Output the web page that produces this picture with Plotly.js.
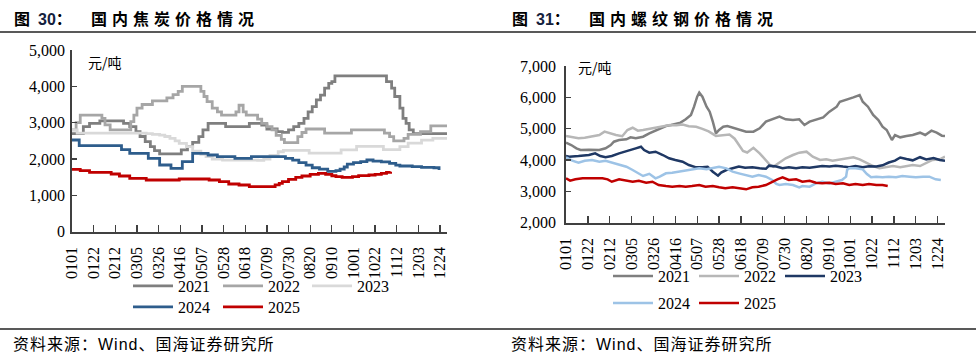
<!DOCTYPE html>
<html><head><meta charset="utf-8">
<script src="https://cdn.plot.ly/plotly-3.0.1.min.js"></script>
<style>html,body{margin:0;padding:0;background:#fff}#chart{width:976px;height:360px}</style>
</head><body><div id="chart"></div>
<script>
// ---- tick labels (MMDD) ----
const tickLabels = ['0101','0122','0212','0305','0326','0416','0507','0528','0618','0709','0730','0820','0910','1001','1022','1112','1203','1224'];
const years = ['2021','2022','2023','2024','2025'];

// ---- 图30 国内焦炭价格 (元/吨), x = day of year (0 = Jan 1) ----
const cokeDay2021 = [0,11,17,27,50,56,62,66,71,76,80,85,106,112,117,123,127,132,149,172,184,189,199,204,210,215,220,225,229,233,237,241,245,249,252,255,305,310,313,318,321,324,327,331,364];
const cokeVal2021 = [2700,2890,2980,3050,2980,2890,2750,2620,2480,2340,2230,2140,2250,2340,2460,2615,2800,2980,2890,2980,2936,2826,2753,2735,2800,2890,2980,3120,3300,3440,3625,3760,3950,4080,4130,4290,4130,3950,3720,3400,3120,2980,2800,2700,2700];
const cokeDay2022 = [0,4,8,29,32,37,57,60,63,68,78,92,98,103,107,125,128,131,136,141,145,159,162,166,169,180,184,189,194,198,203,206,219,223,227,245,271,303,308,312,322,326,338,348,364];
const cokeVal2022 = [2800,3000,3210,3120,2940,2800,3030,3210,3400,3500,3600,3680,3770,3860,4000,3860,3720,3580,3400,3300,3210,3300,3480,3300,3210,3100,2980,2890,2800,2650,2540,2450,2615,2730,2826,2710,2800,2710,2615,2500,2570,2680,2750,2910,2910];
const cokeDay2023 = [0,5,72,78,85,90,95,100,104,111,117,125,130,136,146,180,186,192,200,205,230,261,276,302,318,326,339,350,364];
const cokeVal2023 = [2800,2710,2700,2680,2660,2620,2570,2500,2430,2340,2220,2130,2065,2000,1970,1960,2000,2100,2200,2240,2160,2250,2350,2260,2340,2440,2520,2570,2570];
const cokeDay2024 = [0,7,48,56,74,85,96,107,117,132,141,158,174,207,214,220,227,233,240,248,256,260,264,267,273,280,286,292,300,308,314,318,330,339,351,356];
const cokeVal2024 = [2524,2370,2260,2157,2019,1835,1743,1927,2157,2110,2065,2019,2065,2019,1970,1900,1830,1760,1720,1660,1680,1720,1780,1860,1900,1930,1973,1940,1920,1880,1830,1808,1790,1771,1760,1700];
const cokeDay2025 = [0,8,17,38,46,56,72,104,133,143,152,162,172,197,201,204,210,217,223,231,239,246,252,256,262,272,278,288,294,300,305,309];
const cokeVal2025 = [1717,1680,1634,1588,1533,1468,1422,1450,1422,1377,1312,1285,1239,1290,1330,1376,1441,1496,1533,1579,1606,1579,1540,1514,1497,1514,1542,1560,1579,1606,1633,1652];

// ---- 图31 国内螺纹钢价格 (元/吨) ----
const rebarDay2021 = [0,5,10,14,22,32,38,43,46,51,58,62,67,74,80,86,90,96,101,106,110,115,120,123,126,128,131,135,138,141,144,147,151,155,160,167,173,180,186,192,199,205,211,218,224,229,234,240,247,253,260,263,269,276,282,285,290,295,300,304,308,311,313,316,321,327,333,340,345,351,356,361,364];
const rebarVal2021 = [4553,4479,4373,4320,4330,4320,4373,4479,4585,4638,4660,4724,4692,4744,4851,4936,5011,5085,5118,5171,5192,5299,5436,5702,6020,6150,6021,5702,5542,5224,4851,4960,5063,5085,5030,4958,4905,4905,5012,5224,5299,5383,5299,5277,5299,5118,5224,5277,5362,5542,5702,5861,5915,6000,6075,5861,5702,5436,5277,5063,4958,4744,4639,4798,4724,4766,4798,4872,4798,4936,4872,4776,4766];
const rebarDay2022 = [0,6,12,18,25,32,37,42,48,54,59,64,69,74,79,84,89,94,100,106,112,118,125,131,137,144,150,157,162,166,170,174,180,186,192,196,199,205,211,218,224,231,237,244,250,256,263,269,276,282,288,295,301,308,314,321,327,333,340,346,352,359,364];
const rebarVal2022 = [4766,4724,4692,4713,4744,4798,4905,4851,4798,4760,4958,5030,4936,4958,4990,5030,5063,5085,5118,5110,5130,5075,5060,4995,4915,4770,4800,4815,4680,4480,4290,4240,4390,4213,4001,3841,3787,3915,4054,4160,4234,4266,4106,4001,4022,3978,4022,4054,4086,4022,3915,3809,3735,3767,3809,3767,3809,3841,3809,3894,4001,4022,4106];
const rebarDay2023 = [0,3,12,22,28,33,38,44,51,57,62,67,72,75,80,86,93,99,105,112,118,125,131,136,141,146,149,154,160,166,172,179,186,192,195,202,208,214,221,227,234,240,246,253,259,266,272,278,285,291,298,304,310,316,321,327,333,340,346,353,359,364];
const rebarVal2023 = [4128,4106,4128,4160,4213,4128,4086,4128,4213,4266,4320,4373,4425,4320,4234,4266,4160,4054,4001,3946,3841,3767,3767,3787,3628,3500,3600,3681,3735,3790,3750,3767,3735,3720,3820,3790,3740,3770,3735,3767,3750,3790,3810,3790,3820,3790,3770,3810,3770,3800,3790,3830,3920,3980,4080,4030,3990,4090,4020,4060,4000,3980];
const rebarDay2024 = [0,6,12,18,25,32,38,45,51,58,64,70,74,80,86,90,96,102,109,115,122,128,135,141,147,154,160,166,172,179,185,192,198,202,205,211,218,224,227,234,240,246,253,259,265,269,270,272,278,285,289,293,298,304,310,317,323,330,336,343,349,355,360];
const rebarVal2024 = [4086,3978,3915,3978,4001,3946,3978,3915,3841,3787,3681,3575,3490,3560,3416,3468,3575,3596,3628,3660,3703,3735,3703,3735,3787,3735,3628,3575,3520,3468,3522,3468,3362,3235,3203,3235,3203,3129,3171,3149,3256,3308,3256,3308,3362,3468,3681,3735,3735,3703,3554,3448,3468,3448,3468,3448,3490,3468,3448,3468,3468,3384,3362];
const rebarDay2025 = [0,4,9,16,22,28,35,40,44,51,57,64,70,77,83,89,96,102,109,115,121,128,134,141,147,153,160,166,173,179,185,192,198,203,208,214,221,227,234,240,246,253,259,266,272,278,285,291,298,304,309];
const rebarVal2025 = [3416,3340,3384,3416,3416,3416,3416,3384,3308,3384,3340,3308,3340,3277,3308,3203,3171,3149,3171,3149,3171,3203,3149,3171,3129,3097,3129,3097,3065,3129,3149,3203,3308,3384,3448,3362,3384,3308,3340,3277,3256,3277,3235,3256,3203,3235,3203,3235,3203,3203,3171];

const cokeColors = ['#7f7f7f','#a6a6a6','#d9d9d9','#2e5d8c','#c00000'];
const rebarColors = ['#7f7f7f','#b7b7b7','#1f3864','#9dc3e6','#c00000'];

const monthStart = [0,31,59,90,120,151,181,212,243,273,304,334];
function doy(mmdd){ return monthStart[+mmdd.slice(0,2)-1] + (+mmdd.slice(2)) - 1; }
const tickVals = tickLabels.map(doy);

const cokeDays = [cokeDay2021,cokeDay2022,cokeDay2023,cokeDay2024,cokeDay2025];
const cokeVals = [cokeVal2021,cokeVal2022,cokeVal2023,cokeVal2024,cokeVal2025];
const rebarDays = [rebarDay2021,rebarDay2022,rebarDay2023,rebarDay2024,rebarDay2025];
const rebarVals = [rebarVal2021,rebarVal2022,rebarVal2023,rebarVal2024,rebarVal2025];

const W=976, H=360;
const px = v => v/W, py = v => 1 - v/H;
const serif = 'Liberation Serif';
const cjk = 'Noto Sans CJK SC';

// legend entry anchor (line start x, row centre y) for each series
const cokeLegendPos = [[133,286],[223,286],[312,286],[133,307],[223,307]];
const rebarLegendPos = [[613,276],[699,276],[785,276],[613,303],[699,303]];

const traces = [];
const layout = {
  width:W, height:H, margin:{l:0,r:0,t:0,b:0}, paper_bgcolor:'#fff', plot_bgcolor:'#fff',
  font:{family:serif, color:'#000'}, showlegend:true
};
function leg(pos){
  return {orientation:'h', x:px(pos[0]-5), y:py(pos[1]), xanchor:'left', yanchor:'middle',
    font:{family:serif, size:16, color:'#000'}, bgcolor:'rgba(0,0,0,0)', borderwidth:0,
    itemwidth:40, tracegroupgap:0, itemclick:false, itemdoubleclick:false};
}
let legIdx = 1;
years.forEach((yr,i)=>{
  const key = legIdx===1 ? 'legend' : 'legend'+legIdx;
  traces.push({x:cokeDays[i], y:cokeVals[i], name:yr, type:'scatter', mode:'lines',
    line:{color:cokeColors[i], width:2.8, shape:'hv'}, xaxis:'x', yaxis:'y', legend:key, hoverinfo:'skip'});
  layout[key] = leg(cokeLegendPos[i]);
  legIdx++;
});
years.forEach((yr,i)=>{
  const key = 'legend'+legIdx;
  traces.push({x:rebarDays[i], y:rebarVals[i], name:yr, type:'scatter', mode:'lines',
    line:{color:rebarColors[i], width:2.5}, xaxis:'x2', yaxis:'y2', legend:key, hoverinfo:'skip'});
  layout[key] = leg(rebarLegendPos[i]);
  legIdx++;
});

const xBase = {showgrid:false, zeroline:false, showline:true, linecolor:'#404040', linewidth:1.8,
  ticks:'inside', ticklen:7, tickwidth:1.3, tickcolor:'#404040', tickangle:-90, ticklabelstandoff:7,
  tickmode:'array', tickvals:tickVals, ticktext:tickLabels,
  tickfont:{family:serif, size:16, color:'#000'}, fixedrange:true};
const yBase = {showgrid:false, zeroline:false, showline:true, linecolor:'#404040', linewidth:1.8,
  ticks:'inside', ticklen:5, tickwidth:1.3, tickcolor:'#404040', tickformat:',d', dtick:1000,
  tickfont:{family:serif, size:16, color:'#000'}, fixedrange:true};

Object.assign(layout, {
  xaxis: Object.assign({}, xBase, {domain:[px(72), px(447)], range:[0,363.7], anchor:'y'}),
  yaxis: Object.assign({}, yBase, {domain:[py(231.7), py(50)], range:[0,5000], anchor:'x', ticklabelstandoff:2}),
  xaxis2: Object.assign({}, xBase, {domain:[px(566), px(945)], range:[0,364], anchor:'y2'}),
  yaxis2: Object.assign({}, yBase, {domain:[py(222.7), py(66)], range:[2000,7000], anchor:'x2', ticklabelstandoff:5}),
  shapes:[
    {type:'line', xref:'paper', yref:'paper', x0:0, x1:1, y0:py(32), y1:py(32), line:{color:'#222', width:1.3}},
    {type:'line', xref:'paper', yref:'paper', x0:0, x1:1, y0:py(329), y1:py(329), line:{color:'#222', width:1.3}}
  ],
  annotations:[
    {xref:'paper', yref:'paper', x:px(12), y:py(18), xanchor:'left', yanchor:'middle', showarrow:false,
      text:'<b>图\u2002<span style="font-family:Liberation Sans;color:#14213d">30</span>：</b>', font:{family:cjk, size:16, color:'#000'}},
    {xref:'paper', yref:'paper', x:px(89), y:py(18), xanchor:'left', yanchor:'middle', showarrow:false,
      text:'<b><span style="letter-spacing:5px">国内焦炭价格情况</span></b>', font:{family:cjk, size:16, color:'#000'}},
    {xref:'paper', yref:'paper', x:px(510), y:py(18), xanchor:'left', yanchor:'middle', showarrow:false,
      text:'<b>图\u2002<span style="font-family:Liberation Sans;color:#14213d">31</span>：</b>', font:{family:cjk, size:16, color:'#000'}},
    {xref:'paper', yref:'paper', x:px(587), y:py(18), xanchor:'left', yanchor:'middle', showarrow:false,
      text:'<b><span style="letter-spacing:5px">国内螺纹钢价格情况</span></b>', font:{family:cjk, size:16, color:'#000'}},
    {xref:'paper', yref:'paper', x:px(86), y:py(62), xanchor:'left', yanchor:'middle', showarrow:false,
      text:'元/吨', font:{family:cjk, size:14, color:'#000'}},
    {xref:'paper', yref:'paper', x:px(576), y:py(67), xanchor:'left', yanchor:'middle', showarrow:false,
      text:'元/吨', font:{family:cjk, size:14, color:'#000'}},
    {xref:'paper', yref:'paper', x:px(11), y:py(343), xanchor:'left', yanchor:'middle', showarrow:false,
      text:'<span style="letter-spacing:1px">资料来源：<span style="font-family:Liberation Sans">Wind</span>、国海证券研究所</span>', font:{family:cjk, size:16, color:'#000'}},
    {xref:'paper', yref:'paper', x:px(509), y:py(343), xanchor:'left', yanchor:'middle', showarrow:false,
      text:'<span style="letter-spacing:1px">资料来源：<span style="font-family:Liberation Sans">Wind</span>、国海证券研究所</span>', font:{family:cjk, size:16, color:'#000'}}
  ]
});

Plotly.newPlot('chart', traces, layout, {staticPlot:true, displayModeBar:false});
</script>
</body></html>
